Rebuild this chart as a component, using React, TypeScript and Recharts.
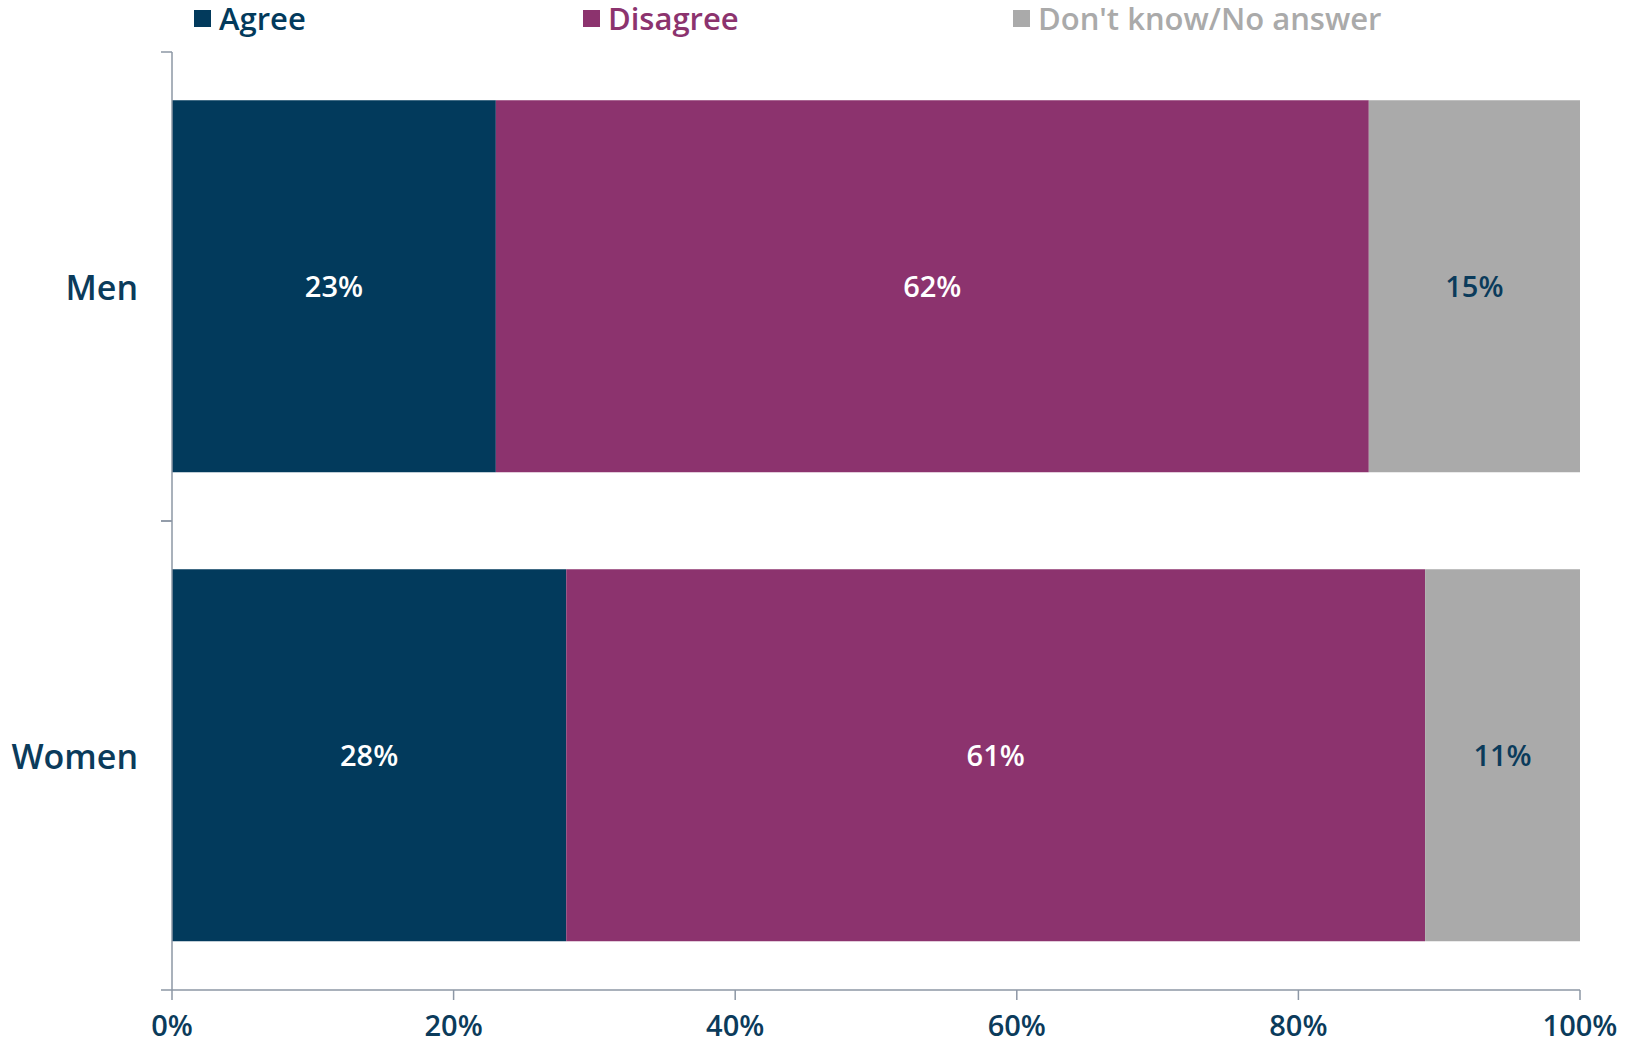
import React from 'react';
import { BarChart, Bar, XAxis, YAxis, Legend, LabelList } from 'recharts';

const groups = ['Men', 'Women'];
const agree = [23, 28];
const disagree = [62, 61];
const dontKnow = [15, 11];
const xTicks = [0, 20, 40, 60, 80, 100];

const seriesNames = ['Agree', 'Disagree', "Don't know/No answer"];
const seriesColors = ['#023a5c', '#8c336e', '#aaaaaa'];
const legendLefts = [194, 583, 1013];

const navy = '#0b3b5b';
const axisGrey = '#8d97a5';
const font = '"Open Sans", "DejaVu Sans", sans-serif';

const data = groups.map((g, i) => ({
  group: g,
  agree: agree[i],
  disagree: disagree[i],
  dontKnow: dontKnow[i],
}));

function CategoryTick(props: any) {
  const { x, y, payload } = props;
  const half = payload?.offset ?? 0;
  return (
    <g>
      <text x={x - 34} y={y} textAnchor="end" dominantBaseline="central"
        fill={navy} fontSize={34} fontWeight={600} fontFamily={font}>
        {payload.value}
      </text>
      <line x1={x - 11} x2={x} y1={y - half} y2={y - half} stroke={axisGrey} strokeWidth={1.5} />
      <line x1={x - 11} x2={x} y1={y + half} y2={y + half} stroke={axisGrey} strokeWidth={1.5} />
    </g>
  );
}

function TopLegend() {
  return (
    <div style={{ position: 'relative', height: 52, width: '100%' }}>
      {seriesNames.map((name, i) => (
        <div key={name} style={{
          position: 'absolute', left: legendLefts[i], top: 0, height: 36,
          display: 'flex', alignItems: 'center', fontFamily: font, fontSize: 31, fontWeight: 600,
          color: seriesColors[i], whiteSpace: 'nowrap',
        }}>
          <span style={{ display: 'inline-block', width: 17, height: 17, background: seriesColors[i], marginRight: 8 }} />
          {name}
        </div>
      ))}
    </div>
  );
}

export default function App() {
  return (
    <div style={{ position: 'absolute', left: 0, top: 0, background: '#fff' }}>
      <BarChart width={1625} height={1046} data={data} layout="vertical"
        margin={{ top: 0, right: 45, bottom: 0, left: 0 }} barCategoryGap="10.3%">
        <Legend verticalAlign="top" align="left" content={() => <TopLegend />}
          wrapperStyle={{ top: 0, left: 0, width: 1625 }} />
        <XAxis type="number" domain={[0, 100]} ticks={xTicks} tickFormatter={(v) => `${v}%`}
          height={56} tickSize={10} tickMargin={15} stroke={axisGrey} strokeWidth={1.5}
          tick={{ fill: navy, fontSize: 29, fontWeight: 600, fontFamily: font }} interval={0} />
        <YAxis type="category" dataKey="group" width={172} tickSize={0} tickMargin={0}
          tickLine={false} stroke={axisGrey} strokeWidth={1.5} tick={<CategoryTick />} />
        <Bar dataKey="agree" stackId="s" fill={seriesColors[0]} isAnimationActive={false}>
          <LabelList dataKey="agree" position="center" formatter={(v: any) => `${v}%`}
            fill="#ffffff" fontSize={29} fontWeight={600} fontFamily={font} />
        </Bar>
        <Bar dataKey="disagree" stackId="s" fill={seriesColors[1]} isAnimationActive={false}>
          <LabelList dataKey="disagree" position="center" formatter={(v: any) => `${v}%`}
            fill="#ffffff" fontSize={29} fontWeight={600} fontFamily={font} />
        </Bar>
        <Bar dataKey="dontKnow" stackId="s" fill={seriesColors[2]} isAnimationActive={false}>
          <LabelList dataKey="dontKnow" position="center" formatter={(v: any) => `${v}%`}
            fill={navy} fontSize={29} fontWeight={600} fontFamily={font} />
        </Bar>
      </BarChart>
    </div>
  );
}
